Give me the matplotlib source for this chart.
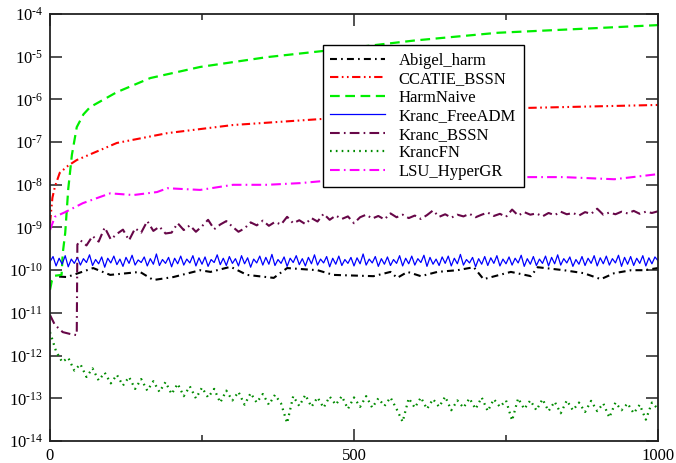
import matplotlib
matplotlib.use("Agg")
import matplotlib.pyplot as plt
from matplotlib.ticker import FixedLocator, FixedFormatter
import numpy as np

# values are log10 of the error
abigel_x = [15, 28, 71, 99, 148, 170, 203, 247, 264, 297, 324, 368, 390, 440, 466, 532, 560,
            571, 588, 610, 637, 670, 697, 713, 758, 791, 802, 845, 878, 906, 928, 956, 977, 1000]
abigel_log = [-10.15, -10.16, -9.95, -10.11, -10.04, -10.23, -10.16, -10.00, -10.04, -9.92, -10.11,
              -10.18, -9.95, -10.00, -10.11, -10.14, -10.04, -10.18, -10.04, -10.14, -10.04, -10.00,
              -9.93, -10.21, -10.04, -10.14, -9.93, -10.00, -10.07, -10.21, -10.07, -10.00, -10.00, -9.95]

ccatie_x = [0, 4, 8, 16, 30, 44, 82, 110, 193, 301, 466, 783, 1000]
ccatie_log = [-8.9, -8.3, -8.05, -7.72, -7.55, -7.42, -7.19, -7.02, -6.79, -6.60, -6.44, -6.20, -6.13]

harm_x = [0, 3, 8, 19, 21, 25, 30, 36, 44, 55, 66, 110, 165, 247, 357, 466, 600, 736, 870, 1000]
harm_log = [-10.46, -10.25, -10.13, -10.11, -9.6, -9.13, -8.1, -7.3, -6.65, -6.35, -6.18, -5.83,
            -5.50, -5.24, -5.01, -4.84, -4.62, -4.44, -4.35, -4.26]

adm_x = np.arange(0, 1001, 5)
adm_log = [-9.80, -9.68, -9.90, -9.72, -9.86, -9.66, -9.92, -9.74, -9.84, -9.70,
           -9.88, -9.73, -9.82, -9.64, -9.89, -9.75, -9.85, -9.69, -9.93, -9.72,
           -9.83, -9.67, -9.87, -9.74, -9.91, -9.70, -9.84, -9.65, -9.88, -9.76,
           -9.82, -9.69, -9.90, -9.73, -9.86, -9.62, -9.89, -9.75, -9.84, -9.70,
           -9.92, -9.72, -9.85, -9.67, -9.88, -9.74, -9.83, -9.66, -9.90, -9.71,
           -9.86, -9.69, -9.91, -9.75, -9.82, -9.64, -9.87, -9.72, -9.89, -9.68,
           -9.84, -9.73, -9.90, -9.66, -9.85, -9.71, -9.93, -9.74, -9.83, -9.67,
           -9.88, -9.70, -9.86, -9.63, -9.89, -9.75, -9.84, -9.69, -9.91, -9.72,
           -9.82, -9.66, -9.87, -9.73, -9.90, -9.70, -9.85, -9.64, -9.88, -9.74,
           -9.83, -9.68, -9.92, -9.72, -9.86, -9.67, -9.89, -9.75, -9.84, -9.70,
           -9.90, -9.71, -9.85, -9.62, -9.88, -9.74, -9.83, -9.68, -9.91, -9.73,
           -9.86, -9.69, -9.89, -9.75, -9.84, -9.66, -9.90, -9.72, -9.85, -9.67,
           -9.88, -9.73, -9.82, -9.65, -9.91, -9.70, -9.86, -9.74, -9.89, -9.69,
           -9.84, -9.67, -9.90, -9.72, -9.85, -9.63, -9.88, -9.75, -9.83, -9.70,
           -9.92, -9.73, -9.86, -9.68, -9.89, -9.71, -9.84, -9.66, -9.90, -9.74,
           -9.85, -9.69, -9.88, -9.72, -9.83, -9.65, -9.91, -9.73, -9.86, -9.68,
           -9.89, -9.74, -9.84, -9.67, -9.90, -9.70, -9.85, -9.64, -9.88, -9.73,
           -9.83, -9.69, -9.91, -9.75, -9.86, -9.68, -9.89, -9.72, -9.84, -9.66,
           -9.90, -9.71, -9.85, -9.67, -9.88, -9.73, -9.83, -9.65, -9.91, -9.70,
           -9.86, -9.68, -9.89, -9.72, -9.84, -9.66, -9.90, -9.71, -9.85, -9.69,
           -9.78]

bssn_x = [0, 8, 21, 35, 44, 45] + list(range(50, 1001, 10))
bssn_log = [-11.05, -11.28, -11.45, -11.50, -11.52, -9.40,
            -9.30, -9.42, -9.20, -9.33, -9.00, -9.28, -9.15, -9.05, -9.30, -9.02,
            -9.12, -8.85, -9.08, -8.98, -9.14, -9.12, -8.90, -9.06, -8.95, -9.10,
            -8.97, -8.82, -9.04, -8.93, -8.85, -8.98, -9.10, -9.02, -8.88, -8.95,
            -8.84, -8.96, -8.87, -8.93, -8.75, -8.90, -8.83, -8.92, -8.78, -8.86,
            -8.68, -8.82, -8.72, -8.80, -8.74, -8.90, -8.76, -8.70, -8.79, -8.73,
            -8.81, -8.67, -8.76, -8.70, -8.78, -8.72, -8.80, -8.71, -8.60, -8.75,
            -8.69, -8.77, -8.70, -8.74, -8.68, -8.76, -8.70, -8.65, -8.73, -8.68,
            -8.75, -8.58, -8.72, -8.64, -8.70, -8.67, -8.74, -8.66, -8.71, -8.63,
            -8.69, -8.66, -8.72, -8.64, -8.68, -8.56, -8.70, -8.65, -8.69, -8.63,
            -8.67, -8.61, -8.68, -8.63, -8.66, -8.62]

fn_x = np.arange(0, 1001, 10)
fn_log = [-11.45, -11.90, -12.15, -12.05, -12.35, -12.20, -12.50, -12.30, -12.58, -12.40,
          -12.65, -12.45, -12.70, -12.50, -12.78, -12.55, -12.82, -12.60, -12.85, -12.62,
          -12.90, -12.66, -12.95, -12.72, -13.00, -12.75, -12.98, -12.78, -13.10, -12.82,
          -13.05, -12.85, -13.15, -12.88, -13.10, -12.90, -13.15, -12.92, -13.12, -13.58,
          -12.95, -13.18, -12.92, -13.20, -12.98, -13.22, -12.96, -13.15, -12.95, -13.25,
          -12.98, -13.20, -12.95, -13.22, -13.00, -13.18, -12.98, -13.25, -13.55, -13.00,
          -13.22, -12.98, -13.25, -13.02, -13.20, -12.96, -13.28, -13.05, -13.22, -13.00,
          -13.25, -12.98, -13.30, -13.02, -13.20, -13.05, -13.52, -13.00, -13.25, -13.05,
          -13.28, -13.02, -13.30, -13.08, -13.35, -13.05, -13.28, -13.10, -13.32, -13.06,
          -13.30, -13.12, -13.45, -13.10, -13.28, -13.12, -13.35, -13.15, -13.50, -13.10, -13.25]

lsu_x = [0, 8, 25, 54, 99, 137, 176, 193, 247, 301, 357, 412, 466, 600, 786, 845, 928, 1000]
lsu_log = [-9.06, -8.75, -8.64, -8.43, -8.20, -8.24, -8.17, -8.08, -8.12, -8.0, -8.0, -7.96,
           -7.89, -7.85, -7.82, -7.82, -7.87, -7.75]

ytick_vals = [1e-14, 1e-13, 1e-12, 1e-11, 1e-10, 1e-9, 1e-8, 1e-7, 1e-6, 1e-5, 1e-4]
ytick_labels = [r'$\mathregular{10^{\text{-}%d}}$' % n for n in range(14, 3, -1)]
xtick_major = [0, 500, 1000]
xtick_minor = [250, 750]

plt.rcParams['font.family'] = ['Liberation Serif', 'DejaVu Serif']
plt.rcParams['mathtext.fontset'] = 'custom'
plt.rcParams['mathtext.rm'] = 'Liberation Serif'
plt.rcParams['mathtext.it'] = 'Liberation Serif:italic'
plt.rcParams['lines.scale_dashes'] = False

fig = plt.figure(figsize=(6.76, 4.63), dpi=100)
ax = fig.add_axes([50 / 676, 22 / 463, 608 / 676, 427 / 463])

ax.plot(abigel_x, 10 ** np.array(abigel_log), color='black', lw=1.5,
        linestyle=(0, (5, 3, 1.2, 3)), label='Abigel_harm')
ax.plot(ccatie_x, 10 ** np.array(ccatie_log), color='#ff0000', lw=1.5,
        linestyle=(0, (6, 2.5, 1.2, 2.5, 1.2, 2.5)), label='CCATIE_BSSN')
ax.plot(harm_x, 10 ** np.array(harm_log), color='#00ee00', lw=1.6,
        linestyle=(0, (7, 4)), label='HarmNaive')
ax.plot(adm_x, 10 ** np.array(adm_log), color='#0000ff', lw=0.9, label='Kranc_FreeADM')
ax.plot(bssn_x, 10 ** np.array(bssn_log), color='#670748', lw=1.5,
        linestyle=(0, (7, 3, 1.2, 3)), label='Kranc_BSSN')
ax.plot(fn_x, 10 ** np.array(fn_log), color='#008b00', lw=1.6,
        linestyle=(0, (1.2, 3)), label='KrancFN')
ax.plot(lsu_x, 10 ** np.array(lsu_log), color='#ff00ff', lw=1.5,
        linestyle=(0, (7, 3, 1.2, 3)), label='LSU_HyperGR')

ax.set_yscale('log')
ax.set_xlim(0, 1000)
ax.set_ylim(1e-14, 1e-4)
ax.yaxis.set_major_locator(FixedLocator(ytick_vals))
ax.yaxis.set_major_formatter(FixedFormatter(ytick_labels))
ax.yaxis.set_minor_locator(FixedLocator([]))
ax.xaxis.set_major_locator(FixedLocator(xtick_major))
ax.xaxis.set_minor_locator(FixedLocator(xtick_minor))
ax.tick_params(which='both', direction='in', top=True, right=True, width=1.1,
               labelsize=12, colors='#222222', labelcolor='black')
ax.tick_params(which='major', length=8.5, pad=5)
ax.tick_params(which='minor', length=4.5)
for sp in ax.spines.values():
    sp.set_linewidth(1.3)
    sp.set_color('#222222')

leg = ax.legend(loc='upper left', bbox_to_anchor=(0.449, 0.927), borderaxespad=0,
                fontsize=12, frameon=True, fancybox=False, edgecolor='black',
                framealpha=1, handlelength=3.3, handletextpad=0.8,
                labelspacing=0.15, borderpad=0.45)
leg.get_frame().set_linewidth(1.0)

fig.savefig('out.png', dpi=100)
